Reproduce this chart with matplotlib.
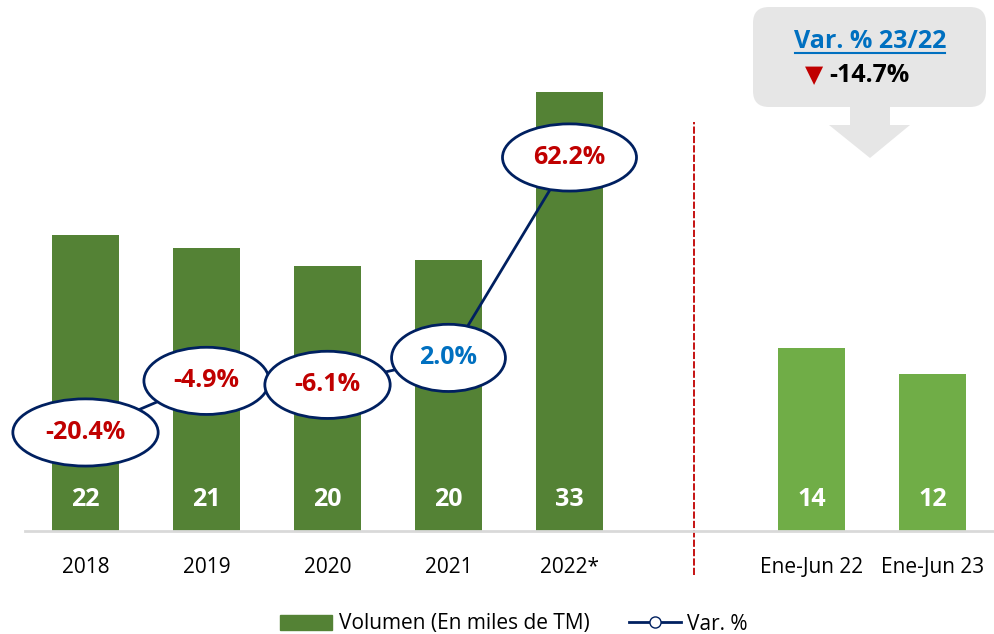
import matplotlib
matplotlib.use("Agg")
import matplotlib.pyplot as plt
from matplotlib.patches import FancyBboxPatch, Polygon, Patch
from matplotlib.lines import Line2D
from matplotlib.transforms import IdentityTransform

# data
categories = ["2018", "2019", "2020", "2021", "2022*", "Ene-Jun 22", "Ene-Jun 23"]
volume = [22.1, 21.1, 19.8, 20.2, 32.8, 13.7, 11.7]
volume_labels = ["22", "21", "20", "20", "33", "14", "12"]
var_pct = [-20.4, -4.9, -6.1, 2.0, 62.2]
var_labels = ["-20.4%", "-4.9%", "-6.1%", "2.0%", "62.2%"]
callout_title = "Var. % 23/22"
callout_value = "-14.7%"

plt.rcParams["font.family"] = ["Open Sans", "DejaVu Sans"]

W, H = 994, 634
fig = plt.figure(figsize=(W / 100, H / 100), dpi=100)

# axes placed in pixel terms
left, right, top, bottom = 25, 993, 10, 531
ax = fig.add_axes([left / W, (H - bottom) / H, (right - left) / W, (bottom - top) / H])

x_pos = [0, 1, 2, 3, 4, 6, 7]
bar_colors = ["#548235"] * 5 + ["#70AD47"] * 2
bars = ax.bar(x_pos, volume, width=0.55, color=bar_colors, zorder=2)

for b, lab in zip(bars, volume_labels):
    ax.annotate(lab, xy=(b.get_x() + b.get_width() / 2, 0), xytext=(0, 31),
                textcoords="offset pixels", ha="center", va="center",
                color="white", fontsize=18, fontweight="bold", zorder=3)

ax.set_xlim(-0.5, 7.5)
ax.set_ylim(0, 38.9)
ax.set_xticks(x_pos)
ax.set_xticklabels(categories, fontsize=15)
ax.tick_params(axis="x", length=0, pad=19)
ax.set_yticks([])
for s in ["left", "right", "top"]:
    ax.spines[s].set_visible(False)
ax.spines["bottom"].set_color("#D9D9D9")
ax.spines["bottom"].set_linewidth(2)

# divider between yearly and semester data
ax.axvline(5.03, ymin=-0.084, ymax=0.785, color="#C00000", lw=1.3,
           ls=(0, (4, 1.2)), clip_on=False, zorder=1)

# variation line on secondary axis
ax2 = ax.twinx()
ax2.set_ylim(-50, 106.5)
ax2.axis("off")
ax2.plot(x_pos[:5], var_pct, color="#002060", lw=2, marker="o",
         markerfacecolor="white", markeredgecolor="#002060", zorder=2)

label_colors = ["#C00000", "#C00000", "#C00000", "#0070C0", "#C00000"]
for xi, v, lab, c in zip(x_pos[:5], var_pct, var_labels, label_colors):
    ax2.annotate(lab, xy=(xi, v), ha="center", va="center", color=c,
                 fontsize=18, fontweight="bold", zorder=4,
                 bbox=dict(boxstyle="ellipse,pad=0.45", fc="white",
                           ec="#002060", lw=2))

# callout box with arrow (pixel coordinates, y measured from top)
def px(x, y):
    return (x, H - y)

box = FancyBboxPatch(px(753, 107), 986 - 753, 100,
                     boxstyle="round,pad=0,rounding_size=16",
                     transform=IdentityTransform(), fc="#E6E6E6", ec="none")
fig.patches.append(box)
arrow = Polygon([px(850, 106), px(890, 106), px(890, 125), px(910, 125),
                 px(870, 158), px(829, 125), px(850, 125)], closed=True,
                transform=IdentityTransform(), fc="#E6E6E6", ec="none")
fig.patches.append(arrow)

t = fig.text(870 / W, 1 - 42 / H, callout_title, ha="center", va="center",
             color="#0070C0", fontsize=18, fontweight="bold")
fig.canvas.draw()
bb = t.get_window_extent()
fig.add_artist(Line2D([bb.x0 + 1, bb.x1 - 1], [bb.y0 + 2, bb.y0 + 2], color="#0070C0",
                      lw=1.5, transform=IdentityTransform()))
fig.text(814 / W, 1 - 75 / H, "\u25BC", ha="center", va="center",
         color="#C00000", fontsize=17, family="DejaVu Sans")
fig.text(829 / W, 1 - 76 / H, callout_value, ha="left", va="center",
         color="black", fontsize=18, fontweight="bold")

# legend
handles = [Patch(color="#548235"),
           Line2D([0], [0], color="#002060", lw=2, marker="o",
                  markerfacecolor="white", markeredgecolor="#002060", markersize=8)]
fig.legend(handles, ["Volumen (En miles de TM)", "Var. %"], loc="center",
           bbox_to_anchor=(514 / W, 10 / H), ncol=2, frameon=False,
           fontsize=15, handlelength=2.5, columnspacing=1.9, handletextpad=0.3)

fig.savefig("out.png", dpi=100)
